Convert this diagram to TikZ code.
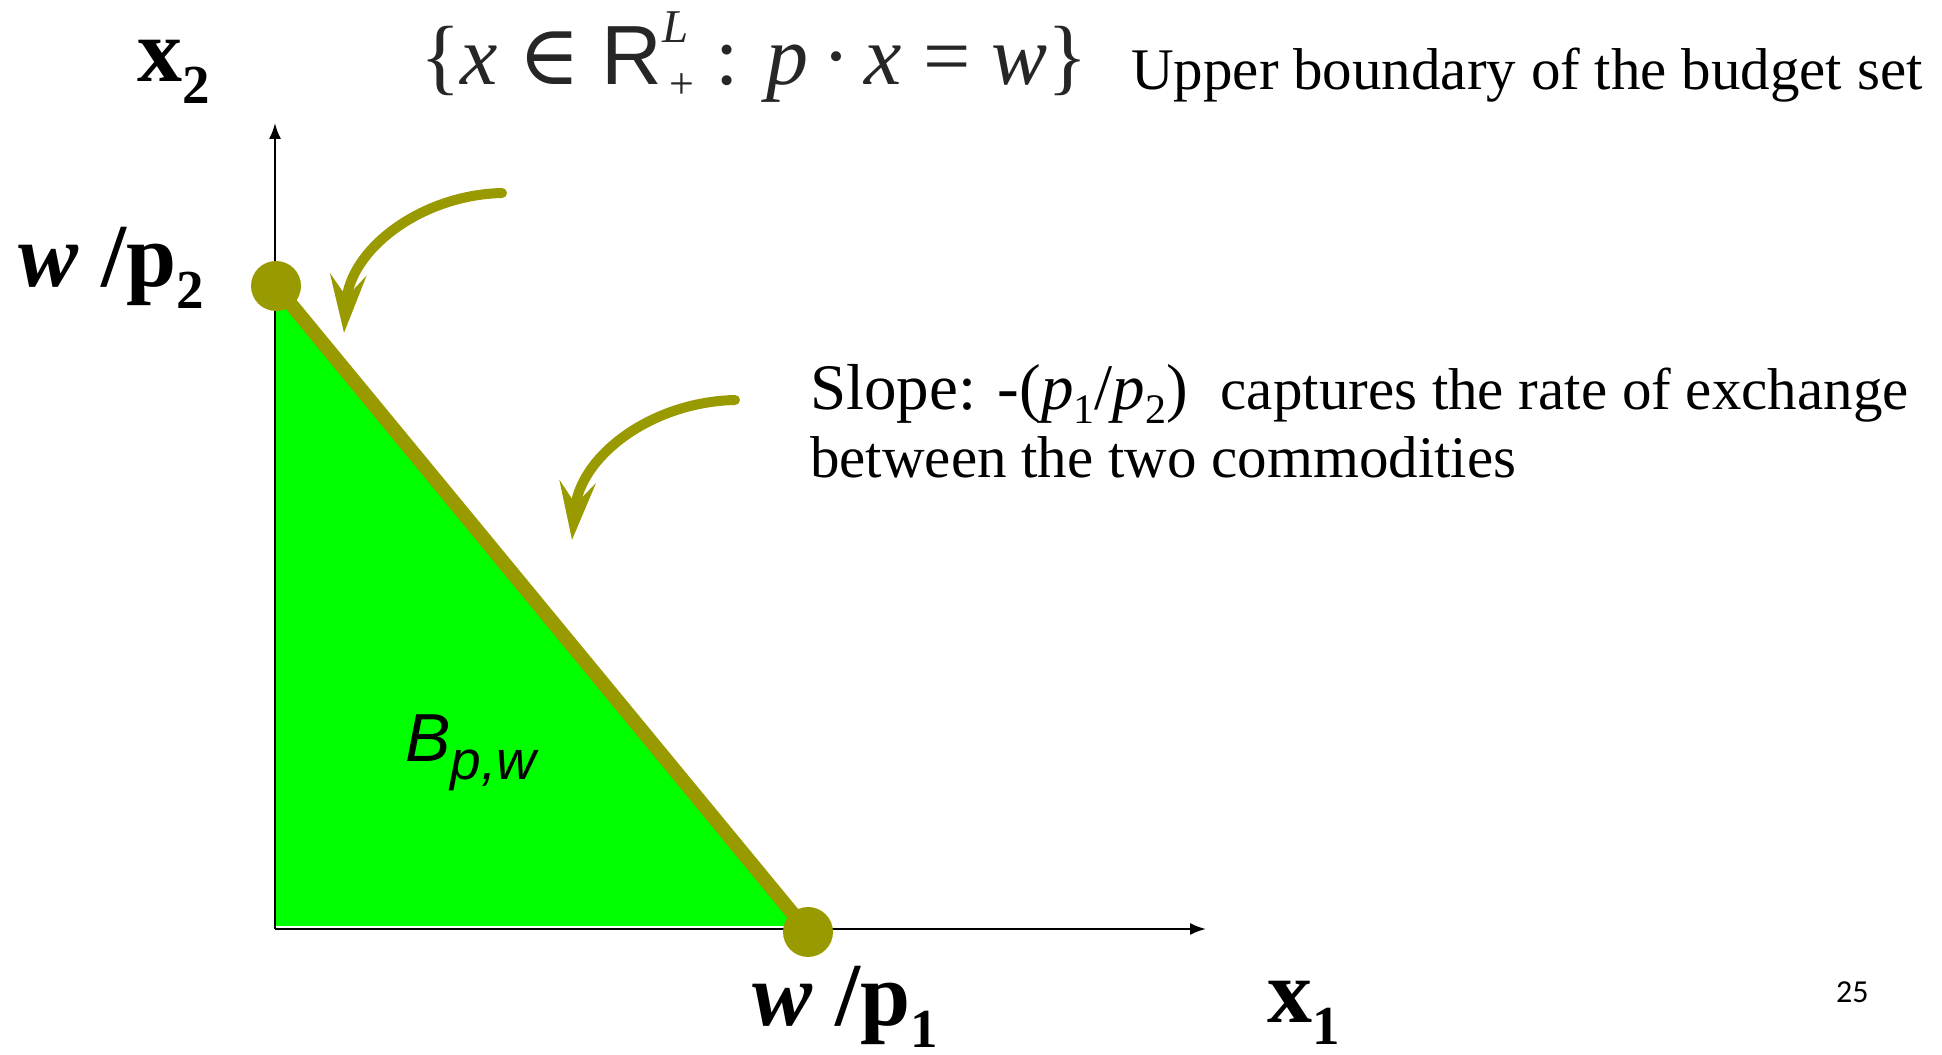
\documentclass[tikz,border=0pt]{standalone}
\usepackage{fontspec}
\setmainfont{Liberation Serif}
\setsansfont{Liberation Sans}
\newfontfamily\pagefont{Carlito}
\newfontfamily\symfont{DejaVu Serif}
\usetikzlibrary{arrows.meta}
\definecolor{budgetolive}{RGB}{153,153,0}
\definecolor{budgetgreen}{RGB}{0,255,0}
\newcommand{\axlbl}[2]{\textbf{#1\raisebox{-22pt}{\fontsize{55}{55}\selectfont #2}}}
\newcommand{\supsub}[2]{\rlap{\raisebox{42pt}{\fontsize{47}{47}\selectfont\textit{#1}}}\hspace{7pt}\raisebox{-14pt}{\fontsize{44}{44}\selectfont #2}}
\newcommand{\lowsub}[1]{\raisebox{-14pt}{\fontsize{42}{42}\selectfont #1}}
\tikzset{
  axis/.style={line width=2pt, -{Latex[length=16pt,width=12pt]}},
  pointer/.style={budgetolive, line width=10pt, line cap=round,
    -{Stealth[length=58pt,width=36pt,inset=22pt]}},
  biglabel/.style={anchor=base west, font=\fontsize{90}{90}\selectfont},
}
\begin{document}
\begin{tikzpicture}[x=1pt, y=1pt, every node/.style={inner sep=0pt, font=\fontsize{59}{59}\selectfont}]
  \useasboundingbox (0,0) rectangle (1942,1054);
  \coordinate (O) at (275,125);
  \coordinate (ytop) at (275,931);
  \coordinate (xend) at (1206,125);
  \coordinate (wp2) at (276,768);
  \coordinate (wp1) at (808,122);
  \coordinate (corner) at (802,128);
  % budget set
  \fill[budgetgreen] (275,128) -- (wp2) -- (corner) -- cycle;
  \draw[axis] (O) -- (ytop);
  \draw[axis] (O) -- (xend);
  \draw[budgetolive, line width=14pt] (wp2) -- (wp1);
  \fill[budgetolive] (wp2) circle (25);
  \fill[budgetolive] (wp1) circle (25);
  % curved pointers
  \coordinate (tail1) at (502,861);
  \coordinate (tip1) at (344,721);
  \draw[pointer] (tail1) .. controls (420,859) and (350,804) .. (tip1);
  \coordinate (tail2) at (735,654);
  \coordinate (tip2) at (572,514);
  \draw[pointer] (tail2) .. controls (650,652) and (580,597) .. (tip2);
  % labels
  \node[biglabel] (x2) at (137,972) {\axlbl{x}{2}};
  \node[biglabel] (wp2lbl) at (18,767) {\axlbl{\textit{w} /p}{2}};
  \node[biglabel] (wp1lbl) at (752,28) {\axlbl{\textit{w} /p}{1}};
  \node[biglabel] (x1) at (1267,31) {\axlbl{x}{1}};
  \node[anchor=base west, text=black!85, font=\fontsize{84}{84}\selectfont] (set) at (420,969)
    {\{\textit{x} {\symfont ∈} {\sffamily R}\supsub{L}{+} : \textit{p}\,·\,\textit{x} = \textit{w}\}};
  \node[anchor=base west] (upper) at (1131,964) {Upper boundary of the budget set};
  \node[anchor=base west] (slope) at (810,644)
    {{\fontsize{65}{65}\selectfont Slope: -(\textit{p}\lowsub{1}/\textit{p}\lowsub{2})}\hspace{18pt} captures the rate of exchange};
  \node[anchor=base west] (slope2) at (810,576) {between the two commodities};
  \node[anchor=base west, font=\fontsize{68}{68}\selectfont\sffamily\itshape] (bset) at (405,292)
    {B\raisebox{-18pt}{\fontsize{55}{55}\selectfont p,w}};
  \node[anchor=base west, font=\fontsize{32}{32}\selectfont\pagefont] (pagenum) at (1836,51) {25};
\end{tikzpicture}
\end{document}
